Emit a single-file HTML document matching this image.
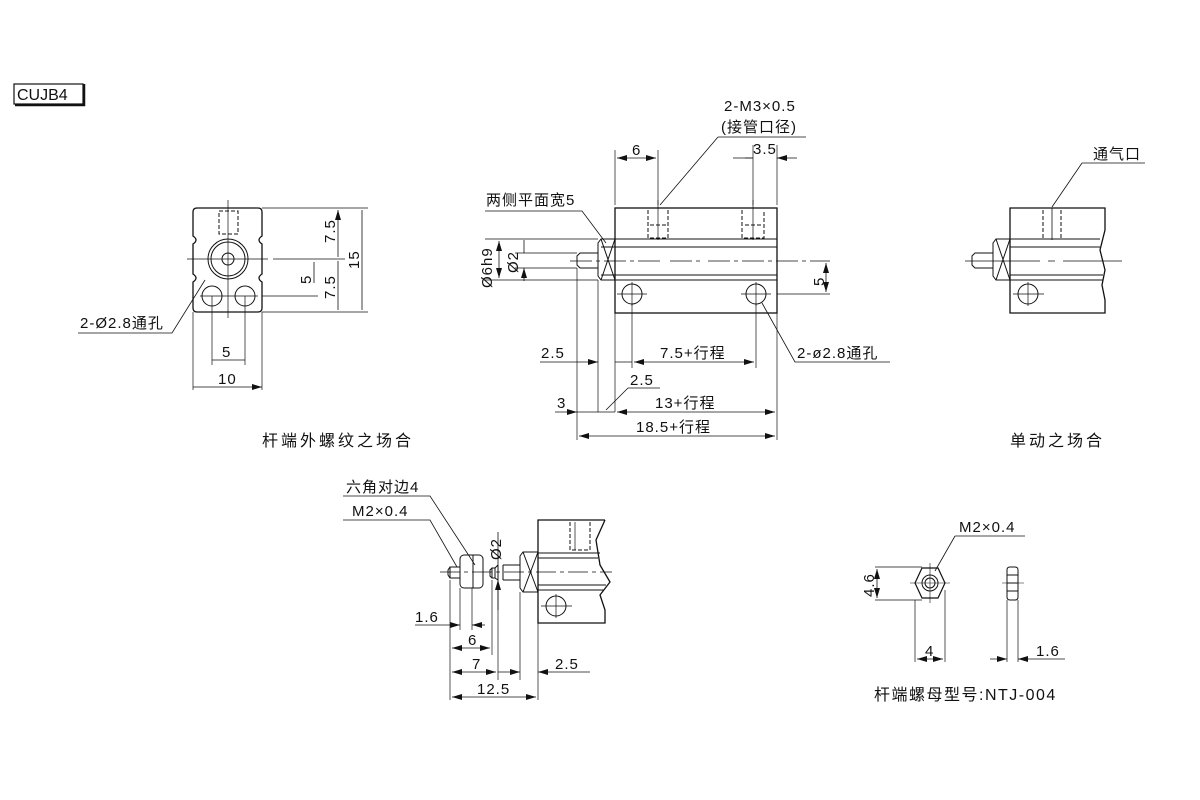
<!DOCTYPE html>
<html><head><meta charset="utf-8"><style>
body{margin:0;background:#fff}
svg{display:block}
text{font-family:"Liberation Sans","Noto Sans CJK SC",sans-serif;fill:#111;letter-spacing:1px}
</style></head><body>
<svg width="1200" height="800" viewBox="0 0 1200 800" xmlns="http://www.w3.org/2000/svg">
<defs>
<marker id="a" viewBox="0 0 10 6" refX="10" refY="3" markerWidth="10" markerHeight="6" orient="auto-start-reverse" markerUnits="userSpaceOnUse"><path d="M0,0L10,3L0,6z" fill="#111"/></marker>
</defs>
<g stroke="#111" fill="none" stroke-width="1">
<rect x="14" y="84" width="69" height="20" stroke-width="1.2"/>
<path d="M84,84V105H15" stroke-width="2.5"/>
</g>
<text x="17" y="100" font-size="16" style="letter-spacing:0">CUJB4</text>

<!-- LEFT VIEW -->
<g stroke="#111" fill="none" stroke-width="1">
<path d="M197,208H258Q262,208 262,212V236Q256,240 262,244V274Q256,278 262,282V308Q262,312 258,312H197Q193,312 193,308V282Q199,278 193,274V244Q199,240 193,236V212Q193,208 197,208Z" stroke-width="1.3"/>
<rect x="219" y="211" width="19" height="23" stroke-dasharray="4,2"/>
<circle cx="228" cy="259" r="20"/><circle cx="228" cy="259" r="17"/><circle cx="228" cy="259" r="6"/>
<circle cx="212" cy="296" r="10"/><circle cx="245" cy="296" r="10"/>
<path d="M187,259H268M273,259H345M228,200V318M200,296H258M262,296H318" stroke-width="0.7"/>
<path d="M212,296V365M245,296V365M193,312V390M262,312V390M262,208H368M262,312H368" stroke-width="0.7"/>
<path d="M338,210V257M338,261V310M362,210V310M314,262V283M212,360H245M193,387H262" marker-start="url(#a)" marker-end="url(#a)" stroke-width="0.8"/>
<path d="M78,333H172L205,280" stroke-width="0.8"/>
</g>
<text x="80" y="328" font-size="15">2-Ø2.8通孔</text>
<text x="222" y="357" font-size="15">5</text>
<text x="218" y="384" font-size="15">10</text>
<text font-size="15" transform="translate(335,243) rotate(-90)">7.5</text>
<text font-size="15" transform="translate(335,299) rotate(-90)">7.5</text>
<text font-size="15" transform="translate(359,269) rotate(-90)">15</text>
<text font-size="15" transform="translate(311,284) rotate(-90)">5</text>
<text x="262" y="446" font-size="16" style="letter-spacing:3px">杆端外螺纹之场合</text>

<!-- MIDDLE VIEW -->
<g stroke="#111" fill="none" stroke-width="1">
<rect x="615" y="208" width="162" height="105" stroke-width="1.3"/>
<path d="M615,239H777M615,247H777M615,275H777M615,280H777"/>
<path d="M601,239H615V280H601L598,276V243Z"/>
<path d="M601,239L615,280M601,280L615,239M601,247H615M601,275H615"/>
<path d="M598,253H580L577,256V265L580,268H598"/>
<circle cx="632" cy="294" r="10"/><circle cx="756" cy="294" r="10"/>
<path d="M617,294H647M632,282V306M741,294H771M756,282V306M777,294H830" stroke-width="0.7"/>
<path d="M648,210V238H668V210M650,225H666M742,210V238H764V210M745,225H761" stroke-dasharray="4,2"/>
<path d="M658,200V240M753,200V240" stroke-width="0.7"/>
<path d="M570,261H660M670,261H700M708,261H830" stroke-dasharray="22,4,4,4" stroke-width="0.7"/>
<path d="M615,150V205M658,150V205M753,145V205M777,145V205" stroke-width="0.7"/>
<path d="M617,158H656" marker-start="url(#a)" marker-end="url(#a)" stroke-width="0.8"/>
<path d="M745,158H753M777,158H785" stroke-width="0.8"/>
<path d="M733,158L753,158M797,158L777,158" marker-end="url(#a)" stroke-width="0.8"/>
<path d="M718,137H806M718,137L660,205" stroke-width="0.8"/>
<path d="M485,211H582L606,243" stroke-width="0.8"/>
<path d="M485,239H598M485,280H598M515,253H577M515,268H577" stroke-width="0.7"/>
<path d="M499,241V278" marker-start="url(#a)" marker-end="url(#a)" stroke-width="0.8"/>
<path d="M524,240V253M524,281V268" marker-end="url(#a)" stroke-width="0.8"/>
<path d="M826,263V292" marker-start="url(#a)" marker-end="url(#a)" stroke-width="0.8"/>
<path d="M577,268V440M598,280V412M615,313V412M632,304V368M756,304V368M777,313V440" stroke-width="0.7"/>
<path d="M540,362H598" marker-end="url(#a)" stroke-width="0.8"/>
<path d="M615,362H632" stroke-width="0.8"/>
<path d="M634,362H754" marker-start="url(#a)" marker-end="url(#a)" stroke-width="0.8"/>
<path d="M890,362H795L762,303" stroke-width="0.8"/>
<path d="M628,388H660M628,388L606,410" stroke-width="0.8"/>
<path d="M555,412H577" marker-end="url(#a)" stroke-width="0.8"/>
<path d="M577,412H615" stroke-width="0.8"/>
<path d="M617,412H775" marker-start="url(#a)" marker-end="url(#a)" stroke-width="0.8"/>
<path d="M579,436H775" marker-start="url(#a)" marker-end="url(#a)" stroke-width="0.8"/>
</g>
<text x="724" y="111" font-size="15">2-M3×0.5</text>
<text x="721" y="132" font-size="15">(接管口径)</text>
<text x="632" y="155" font-size="15">6</text>
<text x="753" y="154" font-size="15">3.5</text>
<text x="486" y="205" font-size="15">两侧平面宽5</text>
<text font-size="15" transform="translate(492,288) rotate(-90)">Ø6h9</text>
<text font-size="15" transform="translate(518,273) rotate(-90)">Ø2</text>
<text font-size="15" transform="translate(824,286) rotate(-90)">5</text>
<text x="541" y="358" font-size="15">2.5</text>
<text x="660" y="358" font-size="15">7.5+行程</text>
<text x="797" y="358" font-size="15">2-ø2.8通孔</text>
<text x="630" y="385" font-size="15">2.5</text>
<text x="557" y="408" font-size="15">3</text>
<text x="655" y="408" font-size="15">13+行程</text>
<text x="636" y="432" font-size="15">18.5+行程</text>

<!-- RIGHT VIEW -->
<g stroke="#111" fill="none" stroke-width="1">
<path d="M1105,208H1010V313H1105V300L1102,285L1105,270L1100,250L1105,230Z" stroke-width="1.3"/>
<path d="M1010,239H1100M1010,247H1100M1010,275H1103M1010,280H1103"/>
<path d="M996,239H1010V280H996L993,276V243Z"/>
<path d="M996,239L1010,280M996,280L1010,239"/>
<path d="M993,253H975L972,256V265L975,268H993"/>
<circle cx="1028" cy="294" r="10"/>
<path d="M1013,294H1044M1028,282V306" stroke-width="0.7"/>
<path d="M1043,210V238M1061,210V238" stroke-dasharray="4,2"/>
<path d="M1052,208V240" stroke-width="0.8"/>
<path d="M965,261H1040M1048,261H1055M1063,261H1122" stroke-width="0.7"/>
<path d="M1082,163H1145M1082,163L1052,207" stroke-width="0.8"/>
</g>
<text x="1093" y="159" font-size="15">通气口</text>
<text x="1010" y="446" font-size="16" style="letter-spacing:3px">单动之场合</text>

<!-- BOTTOM MIDDLE -->
<g stroke="#111" fill="none" stroke-width="1">
<path d="M605,520H538V623H605V610L600,595L610,582L600,565L596,540L605,520" stroke-width="1.3"/>
<path d="M538,553H600M538,558H598M538,585H606M538,590H604"/>
<path d="M523,552H538V592H523L520,588V556Z"/>
<path d="M523,552L538,592M523,592L538,552"/>
<path d="M520,565H503M520,580H503M503,565V580M498,565V580M498,565L495,568V578L498,580M495,568H492V578H495M492,568L490,570V576L492,578"/>
<rect x="460" y="555" width="23" height="33" rx="4"/>
<path d="M460,567H450V578H460M450,567L448,570V575L450,578M473,555V588"/>
<circle cx="556" cy="606" r="10"/>
<path d="M541,606H572M556,594V618M575,522V550" stroke-width="0.7"/>
<path d="M570,522V550H590V522" stroke-dasharray="4,2"/>
<path d="M440,572H612" stroke-width="0.7" stroke-dasharray="20,4,4,4"/>
<path d="M343,496H430L475,565M343,520H430L457,567" stroke-width="0.8"/>
<path d="M498,532V565M498,610V580" marker-end="url(#a)" stroke-width="0.8"/>
<path d="M450,580V700M460,588V630M472,588V630M492,580V655M498,580V680M520,592V680M538,623V700" stroke-width="0.7"/>
<path d="M415,625H460" marker-end="url(#a)" stroke-width="0.8"/>
<path d="M485,625H472" marker-end="url(#a)" stroke-width="0.8"/>
<path d="M452,648H490" marker-start="url(#a)" marker-end="url(#a)" stroke-width="0.8"/>
<path d="M452,672H496" marker-start="url(#a)" marker-end="url(#a)" stroke-width="0.8"/>
<path d="M498,672H520" marker-end="url(#a)" stroke-width="0.8"/>
<path d="M590,672H538" marker-end="url(#a)" stroke-width="0.8"/>
<path d="M452,697H536" marker-start="url(#a)" marker-end="url(#a)" stroke-width="0.8"/>
</g>
<text x="346" y="492" font-size="15">六角对边4</text>
<text x="352" y="516" font-size="15">M2×0.4</text>
<text font-size="15" transform="translate(501,560) rotate(-90)">Ø2</text>
<text x="415" y="622" font-size="15">1.6</text>
<text x="468" y="645" font-size="15">6</text>
<text x="472" y="669" font-size="15">7</text>
<text x="555" y="669" font-size="15">2.5</text>
<text x="477" y="694" font-size="15">12.5</text>

<!-- NUT -->
<g stroke="#111" fill="none" stroke-width="1">
<path d="M922,568H938L945,583L938,598H922L915,583Z" stroke-width="1.2"/>
<circle cx="930" cy="583" r="8"/><circle cx="930" cy="583" r="5"/>
<path d="M910,583H950M930,563V603" stroke-width="0.6"/>
<path d="M1007,570Q1007,567 1010,567H1015Q1018,567 1018,570V597Q1018,600 1015,600H1010Q1007,600 1007,597ZM1007,583H1018M1007,575H1018M1007,591H1018"/>
<path d="M1002,583H1024" stroke-width="0.6"/>
<path d="M875,567H922M875,600H922" stroke-width="0.7"/>
<path d="M877,569V598" marker-start="url(#a)" marker-end="url(#a)" stroke-width="0.8"/>
<path d="M915,600V662M945,590V662M1007,600V662M1018,600V662" stroke-width="0.7"/>
<path d="M917,659H943" marker-start="url(#a)" marker-end="url(#a)" stroke-width="0.8"/>
<path d="M990,659H1007" marker-end="url(#a)" stroke-width="0.8"/>
<path d="M1065,659H1018" marker-end="url(#a)" stroke-width="0.8"/>
<path d="M955,536H1025M955,536L935,571" stroke-width="0.8"/>
</g>
<text x="959" y="532" font-size="15">M2×0.4</text>
<text font-size="15" transform="translate(874,597) rotate(-90)">4.6</text>
<text x="925" y="656" font-size="15">4</text>
<text x="1036" y="656" font-size="15">1.6</text>
<text x="874" y="700" font-size="16" style="letter-spacing:1.5px">杆端螺母型号:NTJ-004</text>
</svg>
</body></html>
